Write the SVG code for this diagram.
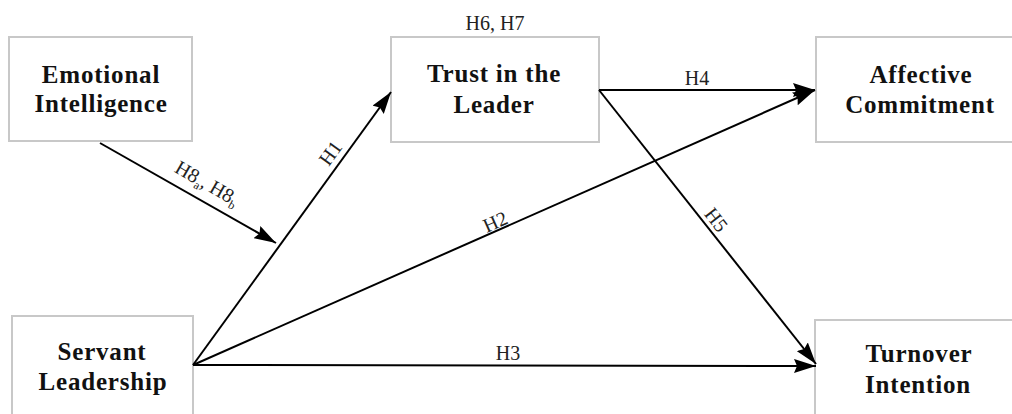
<svg xmlns="http://www.w3.org/2000/svg" width="1012" height="414" viewBox="0 0 1012 414">
  <style>
    .box { fill: #ffffff; stroke: #c8c8c8; stroke-width: 2; }
    .node { font-family: "Liberation Serif", "Times New Roman", serif; font-weight: bold; font-size: 25px; letter-spacing: 0.8px; text-anchor: middle; fill: #111; }
    .lbl { font-family: "Liberation Serif", "Times New Roman", serif; font-size: 20px; text-anchor: middle; fill: #222; }
    .edge { stroke: #000; stroke-width: 2; fill: none; marker-end: url(#arr); }
  </style>
  <defs>
    <marker id="arr" viewBox="0 0 22 14" refX="22" refY="7" markerWidth="22" markerHeight="14" markerUnits="userSpaceOnUse" orient="auto">
      <path d="M0,0 L22,7 L0,14 L3,7 Z" fill="#000"/>
    </marker>
  </defs>
  <rect width="1012" height="414" fill="#ffffff"/>

  <g id="emotional-intelligence">
    <rect class="box" x="9" y="37" width="183" height="104"/>
    <text class="node" x="101" y="83">Emotional</text>
    <text class="node" x="101" y="112">Intelligence</text>
  </g>
  <g id="trust-in-the-leader">
    <rect class="box" x="391" y="37" width="208" height="105"/>
    <text class="node" x="494" y="82">Trust in the</text>
    <text class="node" x="494" y="113">Leader</text>
    <text class="lbl" x="495" y="30">H6, H7</text>
  </g>
  <g id="affective-commitment">
    <rect class="box" x="816" y="37" width="220" height="105"/>
    <text class="node" x="921" y="83">Affective</text>
    <text class="node" x="920" y="113">Commitment</text>
  </g>
  <g id="servant-leadership">
    <rect class="box" x="12" y="316" width="181" height="110"/>
    <text class="node" x="102" y="360">Servant</text>
    <text class="node" x="103" y="390">Leadership</text>
  </g>
  <g id="turnover-intention">
    <rect class="box" x="815" y="320" width="220" height="110"/>
    <text class="node" x="919" y="362">Turnover</text>
    <text class="node" x="918" y="393">Intention</text>
  </g>

  <g id="connectors">
    <line class="edge" x1="193" y1="365" x2="391" y2="92"/>
    <line class="edge" x1="193" y1="365" x2="815" y2="90"/>
    <line class="edge" x1="193" y1="365" x2="816" y2="366"/>
    <line class="edge" x1="599" y1="90" x2="815" y2="90"/>
    <line class="edge" x1="599" y1="90" x2="816" y2="364"/>
    <line class="edge" x1="100" y1="143" x2="276" y2="243"/>
    <text class="lbl" transform="translate(336,157) rotate(-54)">H1</text>
    <text class="lbl" transform="translate(498,228) rotate(-24)">H2</text>
    <text class="lbl" x="508" y="360">H3</text>
    <text class="lbl" x="697" y="85">H4</text>
    <text class="lbl" transform="translate(711,224) rotate(52)">H5</text>
    <text class="lbl" transform="translate(204,189) rotate(30)">H8<tspan font-size="12" dy="4">a</tspan><tspan dy="-4">, H8</tspan><tspan font-size="12" dy="4">b</tspan></text>
  </g>
</svg>
